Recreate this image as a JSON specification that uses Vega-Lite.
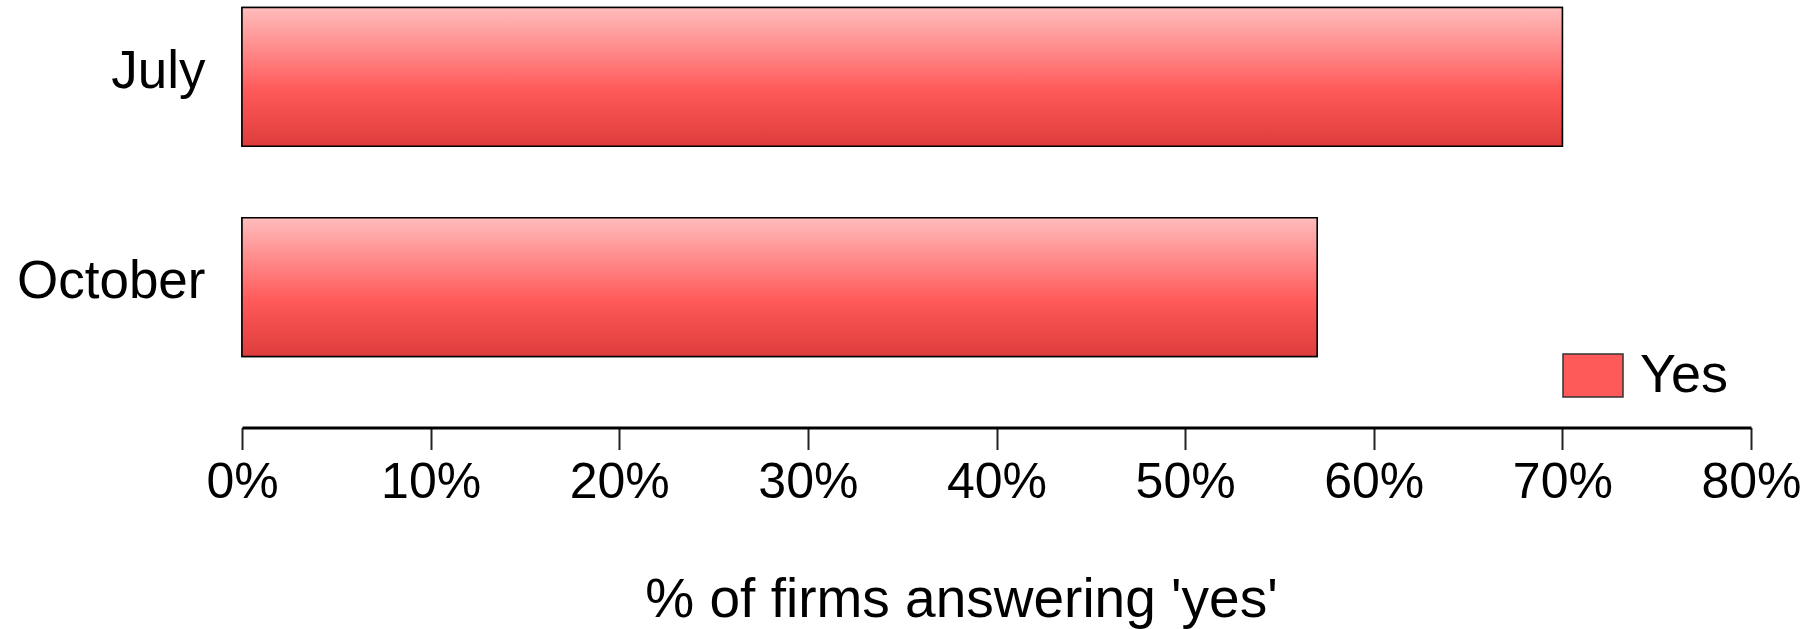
{
  "$schema": "https://vega.github.io/schema/vega-lite/v6.json",
  "autosize": {"type": "none"},
  "width": 1509,
  "height": 349,
  "padding": {"left": 242, "top": 7.5, "right": 64, "bottom": 272},
  "background": "white",
  "config": {"view": {"stroke": null}, "font": "Liberation Sans"},
  "data": {"values": [
    {"month": "July", "pct": 70, "answer": "Yes"},
    {"month": "October", "pct": 57, "answer": "Yes"}
  ]},
  "encoding": {
    "y": {"field": "month", "type": "nominal", "sort": ["July", "October"],
      "scale": {"paddingInner": 0.34, "paddingOuter": 0},
      "axis": {"title": null, "domain": false, "ticks": false, "labelFontSize": 53, "labelColor": "black", "labelPadding": 37, "labelLimit": 0, "labelOffset": -5, "labelFont": "Liberation Sans"}},
    "x": {"field": "pct", "type": "quantitative",
      "scale": {"domain": [0, 80], "nice": false},
      "axis": {"title": "% of firms answering 'yes'", "values": [0,10,20,30,40,50,60,70,80], "labelExpr": "datum.value + '%'",
        "grid": false, "offset": 71, "domainColor": "black", "domainWidth": 3, "tickColor": "#222", "tickWidth": 2, "tickSize": 22,
        "labelFontSize": 50, "labelColor": "black", "labelPadding": 8, "labelFlush": false, "labelOverlap": false, "labelFont": "Liberation Sans",
        "titleFontSize": 55, "titleFontWeight": "normal", "titleColor": "black", "titlePadding": 66, "titleX": 719, "titleFont": "Liberation Sans"}}
  },
  "layer": [
    {"mark": {"type": "bar", "stroke": "black", "strokeWidth": 1.5},
     "encoding": {"color": {"field": "answer", "type": "nominal", "scale": {"range": ["#ff5a5a"]},
       "legend": {"title": null, "orient": "none", "legendX": 1320, "legendY": 337, "labelFontSize": 54, "labelColor": "black", "labelFont": "Liberation Sans",
         "symbolType": "M-1,-0.72H1V0.72H-1Z", "symbolSize": 3600, "symbolStrokeColor": "#333", "symbolStrokeWidth": 1.5, "symbolFillColor": "#ff5a5a", "labelOffset": 16}}}},
    {"mark": {"type": "bar", "stroke": "black", "strokeWidth": 1.5,
      "fill": {"gradient": "linear", "x1": 0, "y1": 0, "x2": 0, "y2": 1,
        "stops": [{"offset": 0, "color": "#ffbcbc"}, {"offset": 0.6, "color": "#ff5959"}, {"offset": 1, "color": "#de3c3c"}]}}}
  ]
}
